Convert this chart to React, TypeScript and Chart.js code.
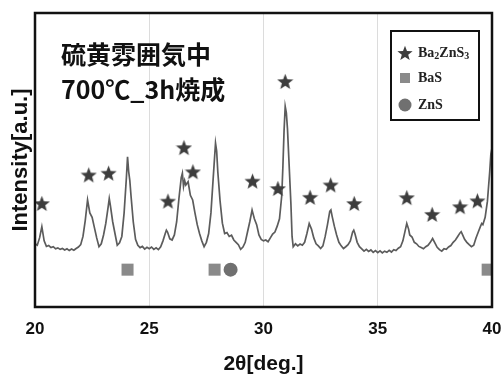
import React, { useEffect, useRef } from 'react';
import { Chart, registerables } from 'chart.js';

Chart.register(...registerables);

// ---- data ----
const twoTheta = [
  20.0, 20.1, 20.2, 20.3, 20.4, 20.5, 20.6, 20.7, 20.8, 20.9,
  21.0, 21.1, 21.2, 21.3, 21.4, 21.5, 21.6, 21.7, 21.8, 21.9,
  22.0, 22.1, 22.2, 22.3, 22.4, 22.5, 22.6, 22.7, 22.8, 22.9,
  23.0, 23.1, 23.2, 23.25, 23.3, 23.4, 23.5, 23.6, 23.7, 23.8, 23.9,
  24.0, 24.05, 24.1, 24.15, 24.2, 24.3, 24.4, 24.5, 24.6, 24.7, 24.8, 24.9,
  25.0, 25.1, 25.2, 25.3, 25.4, 25.5, 25.6, 25.7, 25.75, 25.8, 25.9,
  26.0, 26.1, 26.2, 26.3, 26.4, 26.45, 26.5, 26.55, 26.6, 26.7, 26.8, 26.9,
  27.0, 27.1, 27.2, 27.3, 27.4, 27.5, 27.6, 27.7, 27.8, 27.9, 27.95,
  28.0, 28.1, 28.2, 28.3, 28.4, 28.5, 28.6, 28.7, 28.8, 28.9,
  29.0, 29.1, 29.2, 29.3, 29.4, 29.5, 29.55, 29.6, 29.7, 29.8, 29.9,
  30.0, 30.1, 30.2, 30.3, 30.4, 30.5, 30.6, 30.7, 30.8, 30.85, 30.9, 30.95,
  31.0, 31.05, 31.1, 31.2, 31.25, 31.3, 31.4, 31.5, 31.6, 31.7, 31.8, 31.9,
  32.0, 32.1, 32.2, 32.3, 32.4, 32.5, 32.6, 32.7, 32.8, 32.9, 32.95,
  33.0, 33.1, 33.2, 33.3, 33.4, 33.5, 33.6, 33.7, 33.8, 33.9, 33.95,
  34.0, 34.1, 34.2, 34.3, 34.4, 34.5, 34.6, 34.7, 34.8, 34.9,
  35.0, 35.1, 35.2, 35.3, 35.4, 35.5, 35.6, 35.7, 35.8, 35.9,
  36.0, 36.1, 36.2, 36.27, 36.35, 36.4, 36.5, 36.6, 36.7, 36.8, 36.9,
  37.0, 37.1, 37.2, 37.3, 37.4, 37.5, 37.6, 37.7, 37.8, 37.9,
  38.0, 38.1, 38.2, 38.3, 38.4, 38.5, 38.6, 38.65, 38.7, 38.8, 38.9,
  39.0, 39.1, 39.2, 39.3, 39.4, 39.5, 39.55, 39.6, 39.7, 39.8, 39.9, 39.95,
  40.0,
];

const intensity = [
  21.5, 21.0, 23.5, 27.3, 22.5, 20.6, 20.9, 20.2, 20.5, 19.8,
  20.1, 19.6, 19.9, 19.4, 19.8, 19.2, 19.7, 19.3, 19.9, 20.4,
  21.2, 24.0, 29.5, 36.4, 32.0, 30.5, 27.0, 23.5, 20.5, 21.5,
  24.5, 28.5, 34.0, 36.9, 34.5, 29.0, 25.0, 21.0, 21.8, 24.0, 32.0,
  44.0, 51.1, 46.0, 43.0, 38.0, 29.0, 23.0, 21.0, 20.2, 20.6, 19.7, 20.3,
  19.8, 20.4, 19.6, 20.1, 19.5, 20.5, 22.5, 25.0, 26.1, 25.5, 23.2,
  22.8, 24.5, 29.0, 37.0, 44.0, 45.5, 41.0, 43.0, 41.5, 42.6, 38.0, 36.4,
  32.0, 28.0, 25.0, 22.5, 20.5, 22.0, 25.0, 32.0, 44.0, 55.7, 53.0,
  46.0, 36.0, 28.5, 25.0, 25.3, 24.0, 24.4, 22.8, 22.0, 21.2,
  19.6, 20.4, 22.0, 25.5, 29.0, 33.0, 31.5, 30.0, 28.0, 24.5, 23.0,
  22.5, 22.8, 22.2, 23.5, 24.8, 25.5, 27.5, 30.0, 38.0, 48.0, 60.0, 68.2,
  66.0, 60.5, 52.0, 35.0, 24.0, 20.5, 21.5, 20.8, 21.4, 21.0, 22.0, 25.0,
  28.4, 26.5, 23.5, 21.5, 20.8, 19.9, 20.8, 24.0, 28.0, 32.5, 33.0,
  31.0, 27.5, 24.5, 22.0, 20.8, 19.9, 20.5, 21.2, 22.5, 25.5, 26.1,
  25.0, 22.0, 20.5, 19.8, 19.0, 19.6, 18.9, 19.4, 18.6, 19.2,
  18.5, 19.1, 18.4, 19.0, 18.6, 19.3, 18.7, 19.5, 19.2, 20.0,
  20.5, 22.5, 26.0, 28.4, 26.5, 24.5, 23.8, 22.0, 21.5, 20.6, 20.2,
  19.8, 20.5, 21.0, 22.0, 23.3, 21.8, 20.3, 19.5, 19.0, 19.8,
  19.6, 20.4, 20.9, 22.0, 22.8, 24.0, 25.2, 25.6, 24.8, 23.0, 22.0,
  21.2, 20.5, 21.0, 23.5, 25.5, 27.5, 28.4, 28.0, 30.5, 36.0, 46.0, 52.0,
  54.0,
];

const starAngles = [20.3, 22.35, 23.22, 25.82, 26.52, 26.91, 29.52, 30.63, 30.95, 32.04, 32.94, 33.97, 36.27, 37.38, 38.6, 39.36];
const starValues = [35.2, 44.9, 45.5, 36.0, 54.2, 46.0, 42.8, 40.3, 76.7, 37.3, 41.5, 35.2, 37.2, 31.5, 34.1, 36.1];

const basAngles = [24.05, 27.86, 39.81];
const basValues = [12.7, 12.7, 12.7];

const znsAngles = [28.56];
const znsValues = [12.7];

const xTickValues = [20, 25, 30, 35, 40];
const titleLines = ['硫黄雰囲気中', '700℃_3h焼成'];
const phaseLabels = ['Ba₂ZnS₃', 'BaS', 'ZnS'];

// ---- helpers ----
function makeStar(size: number, color: string): HTMLCanvasElement {
  const c = document.createElement('canvas');
  c.width = size;
  c.height = size;
  const g = c.getContext('2d')!;
  const cx = size / 2, cy = size / 2 + size * 0.04;
  const R = size / 2, r = R * 0.42;
  g.beginPath();
  for (let i = 0; i < 10; i++) {
    const a = -Math.PI / 2 + (i * Math.PI) / 5;
    const rad = i % 2 === 0 ? R : r;
    const px = cx + rad * Math.cos(a);
    const py = cy + rad * Math.sin(a);
    if (i === 0) g.moveTo(px, py); else g.lineTo(px, py);
  }
  g.closePath();
  g.fillStyle = color;
  g.fill();
  return c;
}

const SUBS: Record<string, string> = { '₀': '0', '₁': '1', '₂': '2', '₃': '3', '₄': '4', '₅': '5', '₆': '6', '₇': '7', '₈': '8', '₉': '9' };

function drawFormula(ctx: CanvasRenderingContext2D, text: string, x: number, y: number, size: number) {
  let cx = x;
  for (const ch of text) {
    if (SUBS[ch]) {
      ctx.font = `bold ${Math.round(size * 0.68)}px "Liberation Serif", serif`;
      ctx.fillText(SUBS[ch], cx, y + size * 0.28);
      cx += ctx.measureText(SUBS[ch]).width;
    } else {
      ctx.font = `bold ${size}px "Liberation Serif", serif`;
      ctx.fillText(ch, cx, y);
      cx += ctx.measureText(ch).width;
    }
  }
}

export default function App() {
  const ref = useRef<HTMLCanvasElement | null>(null);

  useEffect(() => {
    if (!ref.current) return;
    const starImg = makeStar(17, '#3d3d3d');
    const starLegendImg = makeStar(16, '#3d3d3d');

    const framePlugin = {
      id: 'frameAndText',
      afterDraw(chart: any) {
        const { ctx, chartArea } = chart;
        ctx.save();
        // frame
        ctx.strokeStyle = '#111';
        ctx.lineWidth = 2.5;
        ctx.strokeRect(chartArea.left, chartArea.top, chartArea.right - chartArea.left, chartArea.bottom - chartArea.top);

        // title text inside plot
        ctx.fillStyle = '#111';
        ctx.textBaseline = 'middle';
        ctx.textAlign = 'left';
        ctx.font = 'bold 25px "Noto Sans CJK JP", sans-serif';
        ctx.fillText(titleLines[0], chartArea.left + 26, chartArea.top + 41);
        ctx.fillText(titleLines[1], chartArea.left + 26, chartArea.top + 76);

        // legend box
        const bx = chartArea.right - 101;
        const by = chartArea.top + 18;
        const bw = 88;
        const bh = 89;
        ctx.fillStyle = '#fff';
        ctx.fillRect(bx, by, bw, bh);
        ctx.strokeStyle = '#111';
        ctx.lineWidth = 2;
        ctx.strokeRect(bx, by, bw, bh);

        const mx = bx + 14;
        const tx = bx + 27;
        const rows = [by + 22, by + 47, by + 74];
        // star
        ctx.drawImage(starLegendImg, mx - 8, rows[0] - 8);
        // square
        ctx.fillStyle = '#8a8a8a';
        ctx.fillRect(mx - 5, rows[1] - 5, 10, 10);
        // circle
        ctx.fillStyle = '#707070';
        ctx.beginPath();
        ctx.arc(mx, rows[2], 6.5, 0, Math.PI * 2);
        ctx.fill();

        ctx.fillStyle = '#222';
        ctx.textBaseline = 'middle';
        phaseLabels.forEach((lab, i) => drawFormula(ctx, lab, tx, rows[i], 14));
        ctx.restore();
      },
    };

    const chart = new Chart(ref.current, {
      type: 'scatter',
      data: {
        datasets: [
          {
            label: phaseLabels[0],
            data: starAngles.map((x, i) => ({ x, y: starValues[i] })),
            pointStyle: starImg as any,
            pointRadius: 8,
            showLine: false,
          },
          {
            label: phaseLabels[1],
            data: basAngles.map((x, i) => ({ x, y: basValues[i] })),
            pointStyle: 'rect',
            pointRadius: 8.5,
            backgroundColor: '#8a8a8a',
            borderWidth: 0,
            showLine: false,
          },
          {
            label: phaseLabels[2],
            data: znsAngles.map((x, i) => ({ x, y: znsValues[i] })),
            pointStyle: 'circle',
            pointRadius: 7,
            backgroundColor: '#707070',
            borderWidth: 0,
            showLine: false,
          },
          {
            label: 'XRD',
            data: twoTheta.map((x, i) => ({ x, y: intensity[i] })),
            showLine: true,
            pointRadius: 0,
            borderColor: '#5c5c5c',
            borderWidth: 1.7,
            tension: 0,
          },
        ],
      },
      options: {
        responsive: false,
        animation: false,
        layout: { padding: { left: 0, right: 12, top: 13, bottom: 0 } },
        plugins: {
          legend: { display: false },
          tooltip: { enabled: false },
        },
        scales: {
          x: {
            type: 'linear',
            min: 20,
            max: 40,
            afterBuildTicks: (s: any) => {
              s.ticks = xTickValues.map((v) => ({ value: v }));
            },
            afterFit: (s: any) => {
              s.height = 70;
              s.paddingLeft = 0;
              s.paddingRight = 0;
            },
            ticks: {
              padding: 12,
              color: '#111',
              font: { family: '"Liberation Sans", Arial, sans-serif', size: 17, weight: 'bold' },
            },
            grid: { color: '#dcdcdc', lineWidth: 1, drawTicks: false },
            border: { display: false },
            title: {
              display: true,
              text: '2θ[deg.]',
              color: '#111',
              padding: { top: 0, bottom: 0 },
              font: { family: '"Liberation Sans", Arial, sans-serif', size: 21, weight: 'bold' },
            },
          },
          y: {
            type: 'linear',
            min: 0,
            max: 100,
            afterFit: (s: any) => {
              s.width = 35;
            },
            ticks: { display: false },
            grid: { display: false, drawTicks: false },
            border: { display: false },
            title: {
              display: true,
              text: 'Intensity[a.u.]',
              color: '#111',
              padding: { top: 8, bottom: 0 },
              font: { family: '"Liberation Sans", Arial, sans-serif', size: 22, weight: 'bold' },
            },
          },
        },
      },
      plugins: [framePlugin],
    });
    return () => chart.destroy();
  }, []);

  return (
    <div style={{ position: 'fixed', left: 0, top: 0, width: 504, height: 377, background: '#fff' }}>
      <canvas ref={ref} width={504} height={377} />
    </div>
  );
}
